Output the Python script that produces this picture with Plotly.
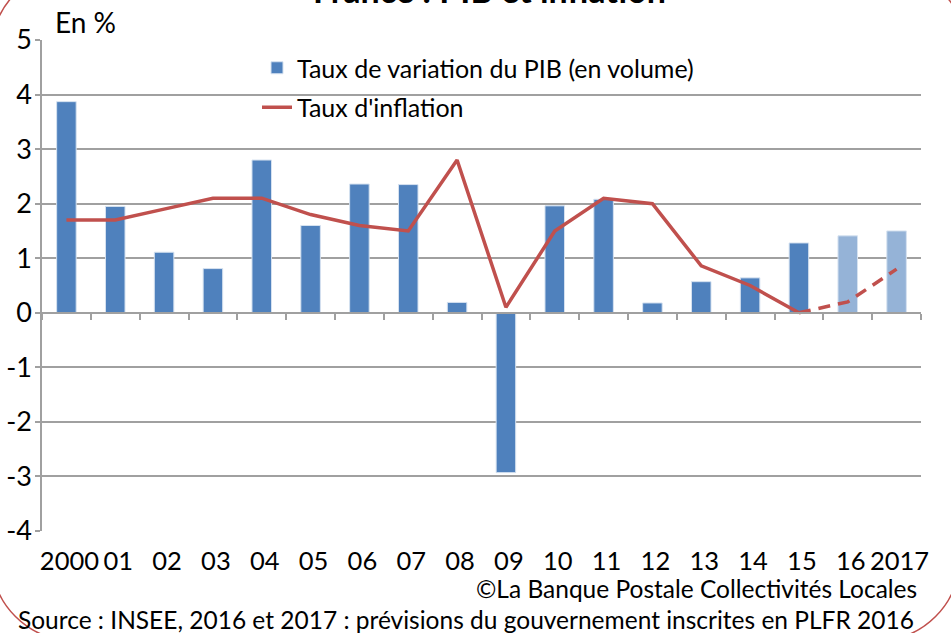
import plotly.graph_objects as go

# ---- data ----
categories = ["2000", "01", "02", "03", "04", "05", "06", "07", "08", "09",
              "10", "11", "12", "13", "14", "15", "16", "2017"]
pib = [3.87, 1.95, 1.11, 0.81, 2.80, 1.60, 2.36, 2.35, 0.19, -2.93,
       1.96, 2.08, 0.18, 0.57, 0.64, 1.28, 1.41, 1.50]
forecast = [False] * 16 + [True, True]
inflation_obs = [1.7, 1.7, 1.9, 2.1, 2.1, 1.8, 1.6, 1.5, 2.8, 0.1,
                 1.5, 2.1, 2.0, 0.86, 0.5, 0.0]
inflation_prev_cats = ["15", "16", "2017"]
inflation_prev = [0.0, 0.2, 0.8]
y_ticks = [-4, -3, -2, -1, 0, 1, 2, 3, 4, 5]
y_tick_labels = ["-4", "-3", "-2", "-1", "0", "1", "2", "3", "4", "5"]

FONT = "Lato"
BLUE = "#4F81BD"
LIGHT = "#95B3D7"
RED = "#C0504D"
GRID = "#A0A0A0"

W, H = 951, 633
ML, MR, MT, MB = 42, 30, 40, 102
PW, PH = W - ML - MR, H - MT - MB


def px(x):
    return (x - ML) / PW


def py(y):
    return (H - MB - y) / PH


fig = go.Figure()
fig.add_trace(go.Bar(
    x=categories, y=pib, name="Taux de variation du PIB (en volume)",
    marker=dict(color=[LIGHT if f else BLUE for f in forecast],
                line=dict(color="#D6E2F0", width=1)),
    legendgroup="a", width=0.4,
))
fig.add_trace(go.Scatter(
    x=categories[:len(inflation_obs)], y=inflation_obs, mode="lines",
    name="Taux d'inflation", line=dict(color=RED, width=3.5),
    legendgroup="b",
))
fig.add_trace(go.Scatter(
    x=inflation_prev_cats, y=inflation_prev, mode="lines", showlegend=False,
    line=dict(color=RED, width=3.5, dash="12px,8px"),
))
# invisible trace on secondary x axis to draw the tick marks on the zero line
fig.add_trace(go.Scatter(x=categories, y=[0] * len(categories), xaxis="x2",
                         mode="lines", line=dict(width=0), showlegend=False,
                         hoverinfo="skip"))

fig.update_layout(
    width=W, height=H,
    margin=dict(l=ML, r=MR, t=MT, b=MB, autoexpand=False),
    paper_bgcolor="white", plot_bgcolor="white",
    font=dict(family=FONT, color="black"),
    showlegend=True,
    legend=dict(x=px(257), y=py(45), xanchor="left", yanchor="top",
                font=dict(size=25, family=FONT), bgcolor="rgba(0,0,0,0)",
                tracegroupgap=4),
    xaxis=dict(type="category", categoryorder="array", categoryarray=categories,
               showgrid=False, showline=False, ticks="", zeroline=False,
               tickangle=0, automargin=False, ticklabelshift=3,
               ticklabelstandoff=12,
               tickfont=dict(size=25.5, family=FONT)),
    xaxis2=dict(type="category", categoryorder="array", categoryarray=categories,
                overlaying="x", anchor="free", position=4 / 9, side="bottom",
                showgrid=False, showline=True, linecolor=GRID, linewidth=1.5,
                ticks="outside", tickson="boundaries", ticklen=6,
                tickcolor=GRID, tickwidth=1.5, showticklabels=False,
                matches="x", automargin=False),
    yaxis=dict(range=[-4, 5], tickvals=y_ticks, ticktext=y_tick_labels,
               showgrid=True, automargin=False,
               gridcolor=GRID, gridwidth=1.5, zeroline=False,
               showline=True, linecolor=GRID, linewidth=1.5,
               ticks="outside", ticklen=5, tickcolor=GRID, tickwidth=1.5,
               ticklabelstandoff=-2,
               tickfont=dict(size=27, family=FONT)),
    bargap=0.6,
)

# texts
fig.add_annotation(text="<b>France : PIB et inflation</b>", xref="paper", yref="paper",
                   x=px(489), y=py(-10), xanchor="center", yanchor="middle",
                   showarrow=False, font=dict(size=34, family=FONT))
fig.add_annotation(text="En %", xref="paper", yref="paper", x=px(53), y=py(22),
                   xanchor="left", yanchor="middle", showarrow=False,
                   font=dict(size=28, family=FONT))
fig.add_annotation(text="©La Banque Postale Collectivités Locales", xref="paper",
                   yref="paper", x=px(919), y=py(588), xanchor="right",
                   yanchor="middle", showarrow=False, font=dict(size=24.5, family=FONT))
fig.add_annotation(text="Source : INSEE, 2016 et 2017 : prévisions du gouvernement inscrites en PLFR 2016",
                   xref="paper", yref="paper", x=px(466), y=py(619), xanchor="center",
                   yanchor="middle", showarrow=False, font=dict(size=24.5, family=FONT))

# rounded frame around the picture (only its corners are visible)
r = 80
k = 0.5523 * r
tl, tr, br, bl = (72, 50), (886.6, 50), (879, 560), (72, 560)
segs = [
    ("M", [(tl[0], tl[1] - r)]),
    ("L", [(tr[0], tr[1] - r)]),
    ("C", [(tr[0] + k, tr[1] - r), (tr[0] + r, tr[1] - k), (tr[0] + r, tr[1])]),
    ("L", [(br[0] + r, br[1])]),
    ("C", [(br[0] + r, br[1] + k), (br[0] + k, br[1] + r), (br[0], br[1] + r)]),
    ("L", [(bl[0], bl[1] + r)]),
    ("C", [(bl[0] - k, bl[1] + r), (bl[0] - r, bl[1] + k), (bl[0] - r, bl[1])]),
    ("L", [(tl[0] - r, tl[1])]),
    ("C", [(tl[0] - r, tl[1] - k), (tl[0] - k, tl[1] - r), (tl[0], tl[1] - r)]),
]
path = " ".join(cmd + " " + " ".join(f"{px(a):.5f},{py(b):.5f}" for a, b in p)
                for cmd, p in segs) + " Z"
fig.add_shape(type="path", path=path, xref="paper", yref="paper",
              line=dict(color="#C0504D", width=1.5), layer="above")

fig.write_html("out.html", config={"displayModeBar": False},
               post_script="document.body.style.margin='0px';")
